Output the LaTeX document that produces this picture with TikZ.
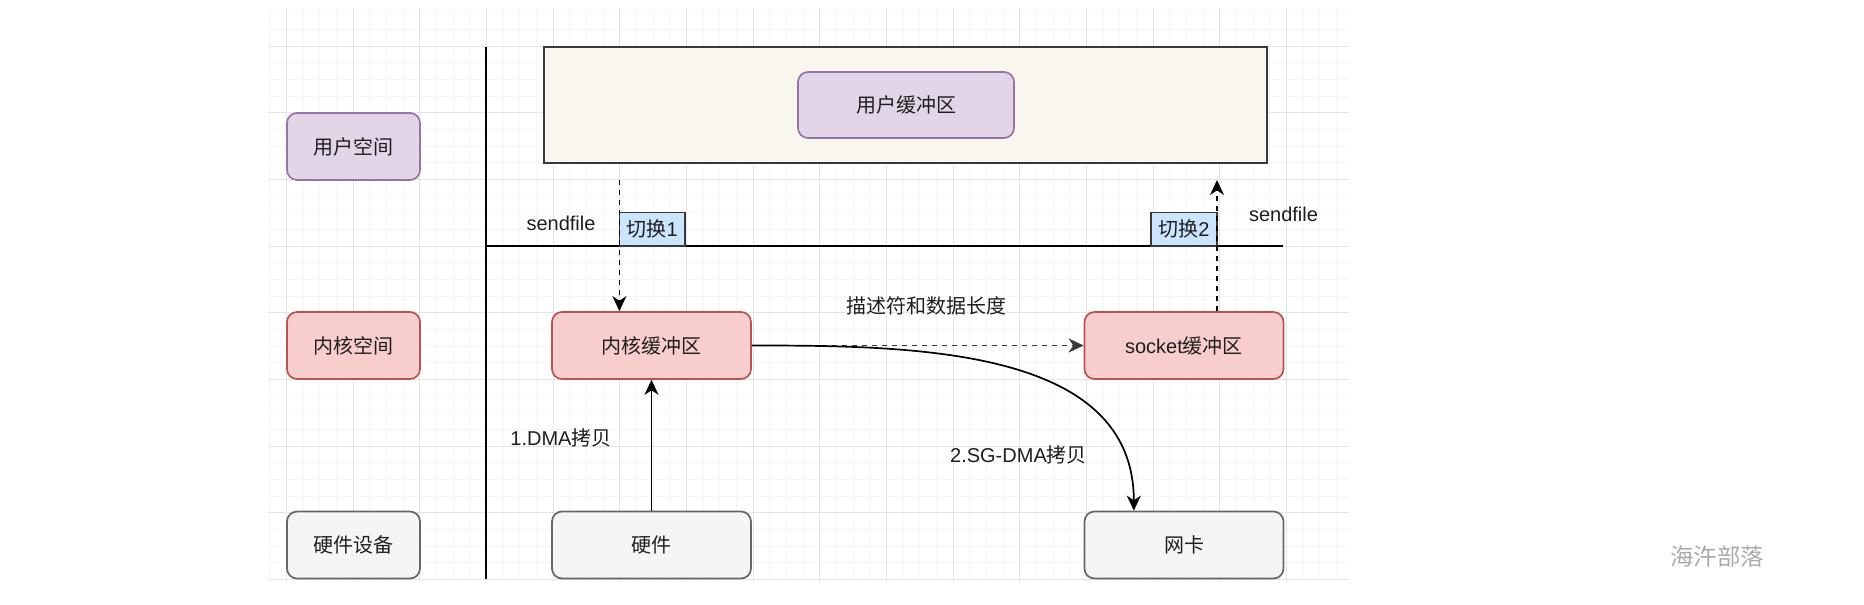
\documentclass[tikz,border=0pt]{standalone}
\usepackage{fontspec}
\setmainfont{Liberation Sans}
\newfontfamily\cjk{Noto Sans CJK SC}
\usetikzlibrary{arrows.meta,calc}

\definecolor{userfill}{HTML}{E1D5E7}
\definecolor{userline}{HTML}{9673A6}
\definecolor{kernfill}{HTML}{F8CECC}
\definecolor{kernline}{HTML}{B85450}
\definecolor{hwfill}{HTML}{F5F5F5}
\definecolor{hwline}{HTML}{666666}
\definecolor{areafill}{HTML}{F9F7ED}
\definecolor{darkline}{HTML}{36393D}
\definecolor{swfill}{HTML}{CCE5FF}
\definecolor{gridminor}{HTML}{F6F6F6}
\definecolor{gridmajor}{HTML}{E4E4E4}
\definecolor{textcol}{HTML}{1E1E1E}
\definecolor{markcol}{HTML}{ABABAB}

\tikzset{
  box/.style={draw, rounded corners=5pt, line width=0.85pt, minimum height=33.5pt, text=textcol},
  sidebox/.style={box, minimum width=66.5pt},
  bufbox/.style={box, minimum width=99.5pt},
  userstyle/.style={fill=userfill, draw=userline},
  kernstyle/.style={fill=kernfill, draw=kernline},
  hwstyle/.style={fill=hwfill, draw=hwline},
  switchbox/.style={draw=darkline, fill=swfill, line width=0.8pt, minimum width=32.8pt, minimum height=16.8pt, inner sep=0pt, text=textcol},
  lbl/.style={text=textcol, inner sep=0pt},
  arr/.style={line width=0.85pt, -{Stealth[length=7.5pt,width=7pt,inset=2.3pt]}},
  dashline/.style={dash pattern=on 2.5pt off 2.5pt}
}

\begin{document}
\begin{tikzpicture}[x=0.5pt, y=-0.5pt]
\fill[white] (0,0) rectangle (1864,605);
\useasboundingbox (0,0) rectangle (1864,605);

% background grid
\foreach \i in {-1,...,63}
  \draw[gridminor, line width=0.5pt] ({286.33+16.667*\i},8) -- ({286.33+16.667*\i},582);
\foreach \j in {-2,...,32}
  \draw[gridminor, line width=0.5pt] (269,{46+16.667*\j}) -- (1349,{46+16.667*\j});
\foreach \i in {0,4,...,60}
  \draw[gridmajor, line width=0.5pt] ({286.33+16.667*\i},8) -- ({286.33+16.667*\i},582);
\foreach \j in {0,4,...,32}
  \draw[gridmajor, line width=0.5pt] (269,{46+16.667*\j}) -- (1349,{46+16.667*\j});

% separators
\draw[line width=1pt] (486.3,47) -- (486.3,579);
\draw[line width=1pt] (486.3,246) -- (1283,246);

% left column
\node[sidebox, userstyle] (userspace) at (353.5,146.5) {\cjk 用户空间};
\node[sidebox, kernstyle] (kernelspace) at (353.5,345.5) {\cjk 内核空间};
\node[sidebox, hwstyle] (hwdev) at (353.5,545) {\cjk 硬件设备};

% user space
\node[draw=darkline, fill=areafill, line width=0.9pt, minimum width=361.5pt, minimum height=58pt] (userarea) at (905.5,105) {};
\node[box, userstyle, minimum width=108pt, minimum height=33pt] (ubuf) at (906,105) {\cjk 用户缓冲区};

% kernel and hardware
\node[bufbox, kernstyle] (kbuf) at (651.5,345.5) {\cjk 内核缓冲区};
\node[bufbox, kernstyle] (sbuf) at (1184,345.5) {socket{\cjk 缓冲区}};
\node[bufbox, hwstyle] (hw) at (651.5,545) {\cjk 硬件};
\node[bufbox, hwstyle] (nic) at (1184,545) {\cjk 网卡};

\node[switchbox] (sw1) at (652.2,229.2) {{\cjk 切换}1};
\node[switchbox] (sw2) at (1184,229.3) {{\cjk 切换}2};

\coordinate (d1) at (619.4,180);
\coordinate (d2) at (1217,180);

% connectors
\draw[arr, dashline] (d1) -- (kbuf.north -| d1);
\draw[arr, dashline] (sbuf.north -| d2) -- (d2);
\draw[arr, dashline, darkline] (kbuf.east) -- (sbuf.west);
\draw[arr] (hw.north) -- (kbuf.south);
\draw[arr] (kbuf.east) to[out=0, in=90] ($(nic.north west)!0.25!(nic.north east)$);

% labels
\node[lbl] (sf1) at (561,223) {sendfile};
\node[lbl] (sf2) at (1283.5,214) {sendfile};
\node[lbl] (desc) at (926.5,306) {\cjk 描述符和数据长度};
\node[lbl] (dma1) at (561,438) {1.DMA{\cjk 拷贝}};
\node[lbl] (dma2) at (1018.5,455) {2.SG-DMA{\cjk 拷贝}};
\node[lbl, text=markcol, font=\fontsize{11.7}{14}\selectfont] (mark) at (1717,557) {\cjk 海汻部落};
\end{tikzpicture}
\end{document}
